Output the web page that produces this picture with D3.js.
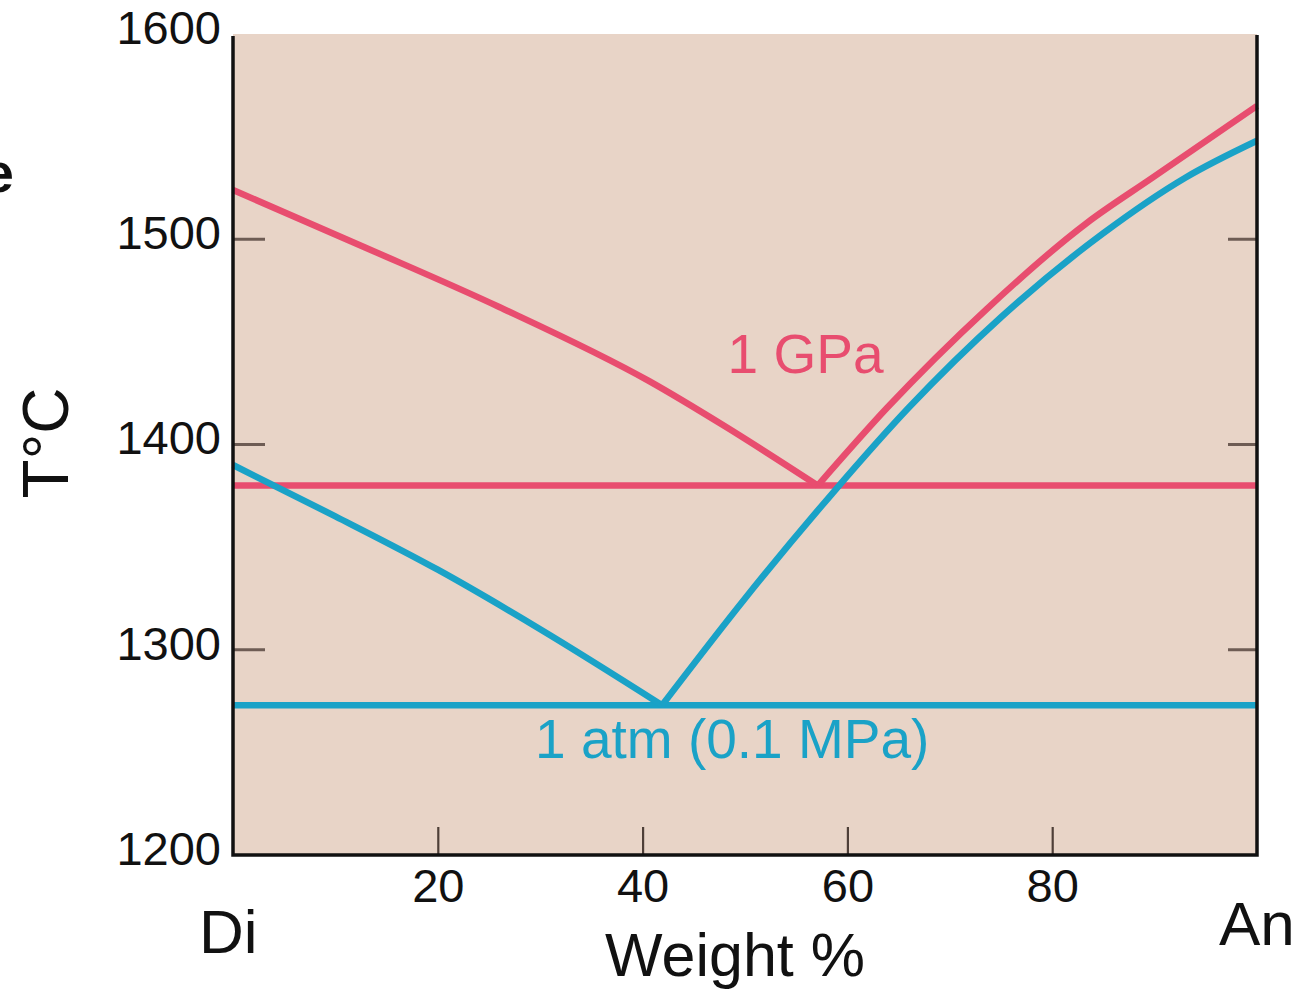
<!DOCTYPE html>
<html>
<head>
<meta charset="utf-8">
<script src="https://cdn.jsdelivr.net/npm/d3@7"></script>
<style>
  html, body { margin: 0; padding: 0; background: #ffffff; }
  svg { display: block; font-family: "Liberation Sans", Arial, Helvetica, sans-serif; }
</style>
</head>
<body>
<svg id="chart" width="1300" height="990"></svg>
<script>
// ---- data ----
const weightTicks = [20, 40, 60, 80];
const tempTicks = [1200, 1300, 1400, 1500, 1600];
const tempTickMarks = [1300, 1400, 1500];

// 1 GPa liquidus, diopside side  [weight % An, T °C]
const gpaDiSide = [[0, 1524], [12.9, 1496], [26, 1467], [40.6, 1431], [48, 1409], [57.1, 1380]];
// 1 GPa liquidus, anorthite side
const gpaAnSide = [[57.1, 1380], [63.9, 1418], [73.6, 1466], [83.4, 1508], [89.8, 1530], [100, 1565]];
const gpaEutecticT = 1380;

// 1 atm liquidus, diopside side
const atmDiSide = [[0, 1390], [10, 1365], [20, 1339], [30, 1310], [41.9, 1273]];
// 1 atm liquidus, anorthite side
const atmAnSide = [[41.9, 1273], [50, 1325], [58.5, 1376], [66, 1418], [75, 1462], [85, 1503], [93, 1530], [100, 1548]];
const atmEutecticT = 1273;

const seriesLabels = ["1 GPa", "1 atm (0.1 MPa)"];

// ---- styles ----
const PINK = "#e84d6f";
const BLUE = "#1aa2c7";
const BG = "#e8d4c7";

const svg = d3.select("#chart");
const x = d3.scaleLinear().domain([0, 100]).range([233, 1257]);
const y = d3.scaleLinear().domain([1200, 1600]).range([855, 34]);

// plot background
svg.append("rect")
  .attr("x", x(0)).attr("y", y(1600))
  .attr("width", x(100) - x(0)).attr("height", y(1200) - y(1600))
  .attr("fill", BG);

const line = d3.line().x(d => x(d[0])).y(d => y(d[1])).curve(d3.curveMonotoneX);

const plot = svg.append("g");
function drawCurve(data, color) {
  plot.append("path").datum(data)
    .attr("d", line)
    .attr("fill", "none")
    .attr("stroke", color)
    .attr("stroke-width", 6.5)
    .attr("stroke-linejoin", "round");
}
// horizontal eutectic (solidus) lines
plot.append("line").attr("x1", x(0)).attr("x2", x(100))
  .attr("y1", y(gpaEutecticT)).attr("y2", y(gpaEutecticT))
  .attr("stroke", PINK).attr("stroke-width", 6.5);
plot.append("line").attr("x1", x(0)).attr("x2", x(100))
  .attr("y1", y(atmEutecticT)).attr("y2", y(atmEutecticT))
  .attr("stroke", BLUE).attr("stroke-width", 6.5);

drawCurve(gpaDiSide, PINK);
drawCurve(atmDiSide, BLUE);
drawCurve(atmAnSide, BLUE);
drawCurve(gpaAnSide, PINK);

// series labels
svg.append("text").text(seriesLabels[0])
  .attr("x", x(48.3)).attr("y", y(1435))
  .attr("font-size", 55).attr("fill", PINK);
svg.append("text").text(seriesLabels[1])
  .attr("x", x(29.5)).attr("y", y(1247.5))
  .attr("font-size", 55).attr("fill", BLUE);

// left axis (labels + inner ticks)
const yAxis = svg.append("g")
  .attr("transform", `translate(${x(0)},0)`)
  .call(d3.axisLeft(y).tickValues(tempTicks).tickSize(0).tickPadding(12).tickFormat(d3.format("d")));
yAxis.select(".domain").remove();
yAxis.selectAll("text").attr("font-size", 47).attr("fill", "#111").attr("dy", "0.2em")
  .attr("font-family", "Liberation Sans, Arial, sans-serif");

const tickColor = "#6e5c54";
svg.append("g").selectAll("line").data(tempTickMarks).join("line")
  .attr("x1", x(0)).attr("x2", x(0) + 32)
  .attr("y1", d => y(d)).attr("y2", d => y(d))
  .attr("stroke", tickColor).attr("stroke-width", 3);
svg.append("g").selectAll("line").data(tempTickMarks).join("line")
  .attr("x1", x(100)).attr("x2", x(100) - 29)
  .attr("y1", d => y(d)).attr("y2", d => y(d))
  .attr("stroke", tickColor).attr("stroke-width", 3);

// bottom axis
const xAxis = svg.append("g")
  .attr("transform", `translate(0,${y(1200)})`)
  .call(d3.axisBottom(x).tickValues(weightTicks).tickSize(-28).tickPadding(14));
xAxis.select(".domain").remove();
xAxis.selectAll(".tick line").attr("stroke", "#4e3f38").attr("stroke-width", 2.2);
xAxis.selectAll("text").attr("font-size", 47).attr("fill", "#111")
  .attr("font-family", "Liberation Sans, Arial, sans-serif");

// frame: left, bottom, right (no top)
const frame = d3.path();
frame.moveTo(x(0), y(1600) + 2);
frame.lineTo(x(0), y(1200));
frame.lineTo(x(100), y(1200));
frame.lineTo(x(100), y(1600) + 1);
svg.append("path").attr("d", frame.toString())
  .attr("fill", "none").attr("stroke", "#111").attr("stroke-width", 3.5);

// axis titles
svg.append("text").text("Weight %")
  .attr("x", 735).attr("y", 976).attr("text-anchor", "middle")
  .attr("font-size", 61).attr("fill", "#111");
svg.append("text").text("Di")
  .attr("x", 199).attr("y", 953)
  .attr("font-size", 62).attr("fill", "#111");
svg.append("text").text("An")
  .attr("x", 1219).attr("y", 945)
  .attr("font-size", 62).attr("fill", "#111");
svg.append("text").text("T°C")
  .attr("transform", "translate(68,443) rotate(-90)")
  .attr("text-anchor", "middle")
  .attr("font-size", 64).attr("fill", "#111");

// cut-off fragment at the left edge (as in the reference)
svg.append("text").text("e")
  .attr("x", 14).attr("y", 192).attr("text-anchor", "end")
  .attr("font-size", 56).attr("font-weight", "bold").attr("fill", "#111");
</script>
</body>
</html>
